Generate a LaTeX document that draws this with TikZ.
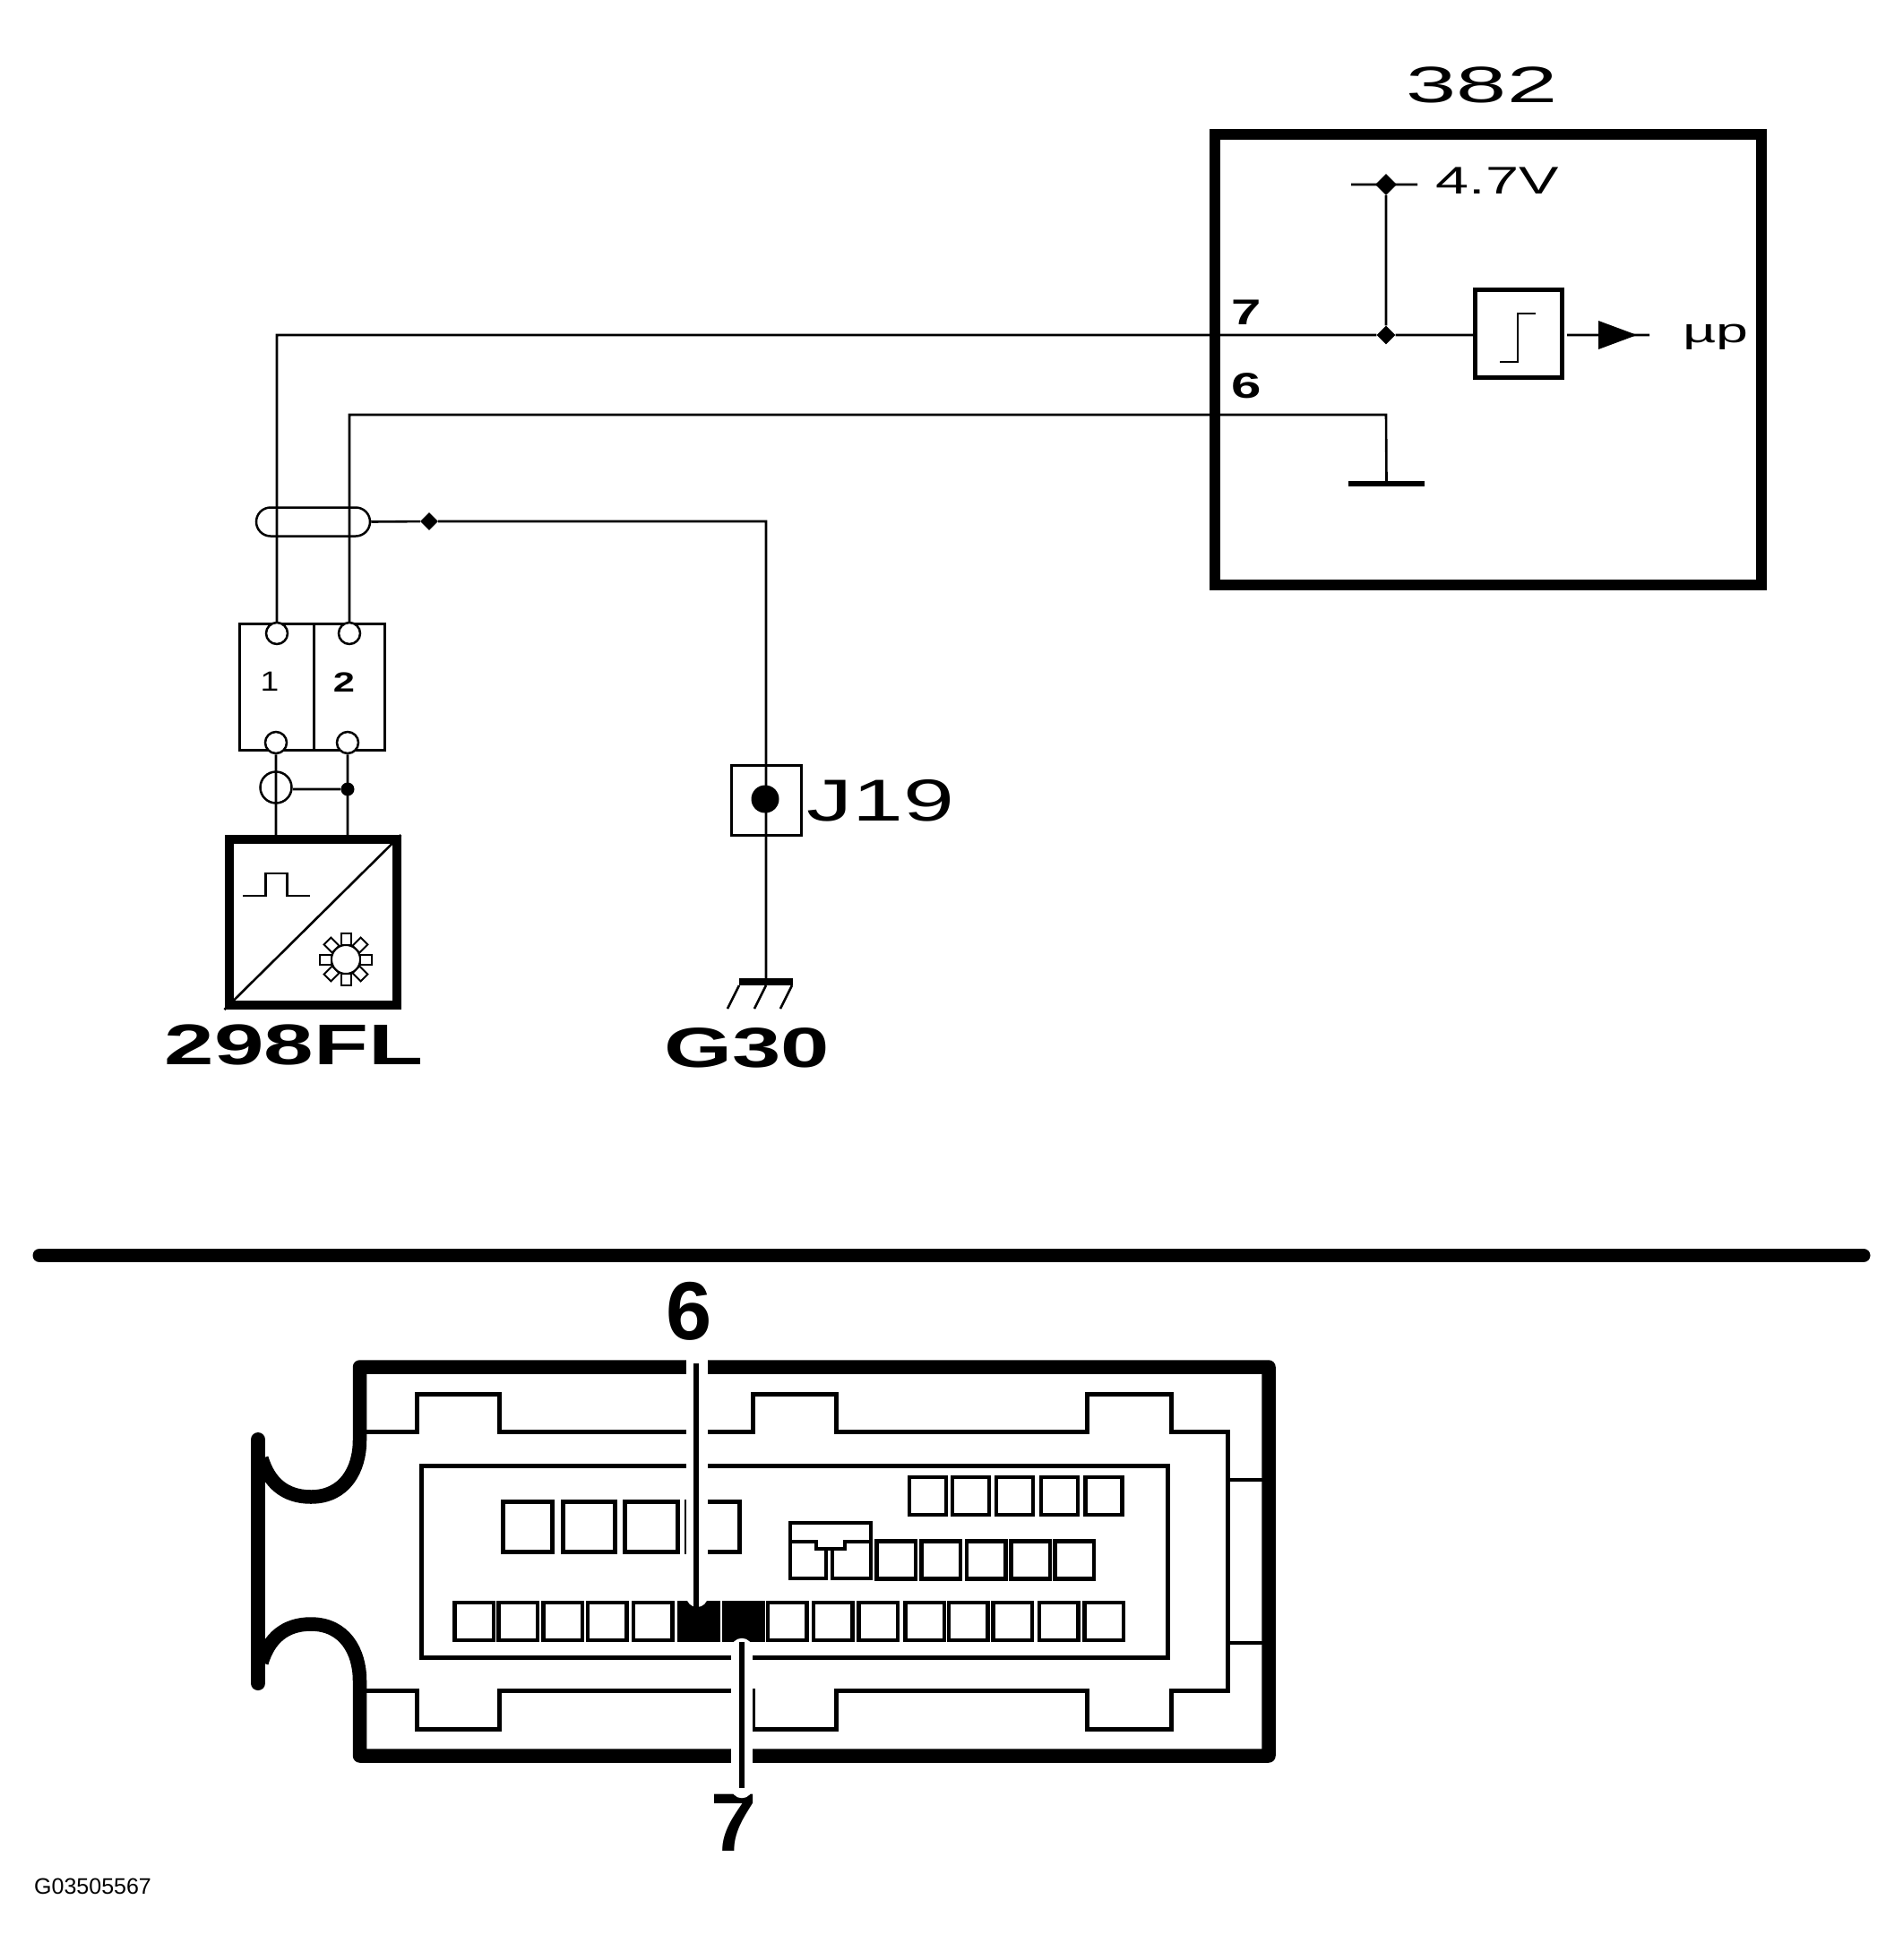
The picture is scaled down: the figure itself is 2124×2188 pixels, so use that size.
\documentclass[tikz,border=0pt]{standalone}
\usepackage{graphicx}
\usepackage{fontspec}
\setmainfont{Liberation Sans}
\usetikzlibrary{shapes.geometric, calc}
\newcommand{\stretched}[2]{\scalebox{#1}[1]{#2}}

\begin{document}
\begin{tikzpicture}[
    x=1pt, y=-1pt,
    wire/.style={line width=2.6pt},
    lbl/.style={font=\fontsize{#1}{#1}\selectfont, inner sep=0pt},
    heavy/.style={font=\fontsize{#1}{#1}\selectfont\bfseries, inner sep=0pt},
    box/.style={draw, rectangle, inner sep=0pt},
    pin/.style={draw, circle, fill=white, line width=2.5pt, inner sep=0pt, minimum size=24pt},
    junction/.style={diamond, fill, inner sep=0pt, minimum size=#1},
    bar/.style={rectangle, fill, inner sep=0pt},
    pad/.style={box, line width=4.5pt, minimum width=43.5pt, minimum height=42pt},
    bigpad/.style={box, line width=5pt, minimum height=56pt},
    tooth/.style={box, fill=white, line width=2pt, minimum width=13pt, minimum height=11pt},
    shell/.style={line width=15.5pt, line join=round},
    outline/.style={line width=5pt, line join=miter}
]
    \useasboundingbox (0,0) rectangle (2124,2188);

    % Control unit on the right.
    \node[box, line width=12pt, minimum width=610pt, minimum height=503pt] (ecu) at (1661,401.5) {};
    \node[lbl=57] (n382) at (1654,95) {\stretched{1.77}{382}};
    \node[box, line width=5pt, minimum width=97pt, minimum height=98pt] (thr) at (1695,372.5) {};
    \node[junction=24pt] (j47) at (1547,206) {};
    \node[junction=21pt] (j7) at (1547,374) {};
    \coordinate (rl) at (1508,206);
    \coordinate (rr) at (1582,206);
    \coordinate (c6) at (1547,463);
    \coordinate (out) at (1841,374);
    \node[bar, minimum width=85pt, minimum height=6pt] (g6) at (1547.5,540) {};
    \node[lbl=43] (v47) at (1671,201.5) {\stretched{1.55}{4.7V}};
    \node[lbl=38] (mup) at (1915,376) {\stretched{1.7}{µp}};
    \node[heavy=40] (n7) at (1391,349) {\stretched{1.5}{7}};
    \node[heavy=40] (n6) at (1391,431) {\stretched{1.5}{6}};

    % Plug and sensor on the left.
    \node[box, line width=3pt, minimum width=82.5pt, minimum height=141pt] (conn1) at (308.75,767) {};
    \node[box, line width=3pt, minimum width=79.5pt, minimum height=141pt] (conn2) at (389.75,767) {};
    \node[lbl=31] (l1) at (301,761) {\stretched{1.2}{1}};
    \node[heavy=31] (l2) at (384,762) {\stretched{1.4}{2}};
    \node[pin] (p1t) at (309,707) {};
    \node[pin] (p2t) at (390,707) {};
    \node[pin] (p1b) at (308,829) {};
    \node[pin] (p2b) at (388,829) {};
    \node[pin, minimum size=35pt, fill=none] (loop) at (308,879) {};
    \node[circle, fill, inner sep=0pt, minimum size=15pt] (dot) at (388,881) {};
    \node[box, line width=10pt, minimum width=187pt, minimum height=185pt] (sensor) at (349,1029.5) {};
    \node[heavy=64] (n298) at (328,1166.5) {\stretched{1.56}{298FL}};
    \node[draw, rectangle, rounded corners=16pt, line width=2.5pt, inner sep=0pt, minimum width=127pt, minimum height=32pt] (shield) at (349.5,582.5) {};
    \node[junction=20pt] (j1) at (479,582) {};

    % Earth point.
    \node[box, line width=3pt, minimum width=78pt, minimum height=78pt] (j19) at (855.5,893.5) {};
    \node[circle, fill, inner sep=0pt, minimum size=31pt] (j19dot) at (854,892) {};
    \node[lbl=66] (nj19) at (983,893.5) {\stretched{1.55}{J19}};
    \node[bar, minimum width=60pt, minimum height=8pt] (gnd) at (855,1096) {};
    \node[heavy=63] (g30) at (834,1169.5) {\stretched{1.55}{G30}};

    \path[draw, wire]
        (p1t.north) |- (j7)
        (j7) -- (j7 -| thr.west)
        (j47) -- (j7)
        (rl) -- (rr)
        ([xshift=3pt]out -| thr.east) -- (out)
        (p2t.north) |- (c6) -- (g6.north)
        (shield.east) -- (j1) -- (j1 -| gnd) -- (gnd.north)
        (p1b.south) -- (p1b |- sensor.north)
        (p2b.south) -- (p2b |- sensor.north)
        (loop.east |- dot) -- (dot);

    % Small symbols.
    \fill (1784,358) -- (1827,374) -- (1784,390) -- cycle;
    \draw[wire] (1674,404) -- (1694,404) -- (1694,350) -- (1714,350);
    \draw[wire] (271,1000) -- (296.5,1000) -- (296.5,975) -- (320.5,975) -- (320.5,1000) -- (345.5,1000);
    \draw[wire] (sensor.south west) -- (sensor.north east);
    \foreach \x in {825,855,884}
        \draw[wire] (\x,1100) -- ++(-13,26);
    \coordinate (gear) at (386,1071);
    \foreach \a in {0,45,...,315}
        \node[tooth, rotate=-\a] (tooth\a) at ($(gear)+(\a:22.5)$) {};
    \node[circle, draw, fill=white, line width=2pt, inner sep=0pt, minimum size=32pt] (hub) at (gear) {};

    % Separator.
    \draw[line width=15pt, line cap=round] (44,1401.5) -- (2080,1401.5);

    % Connector seen from the front.
    \node[heavy=92] (big6) at (769,1464) {\stretched{1}{6}};
    \node[heavy=92] (big7) at (819,2035) {\stretched{1}{7}};
    \draw[shell] (292,1628) .. controls (300,1655) and (318,1671) .. (347,1671) .. controls (385,1671) and (401.5,1640) .. (401.5,1608) -- (401.5,1526) -- (1416,1526) -- (1416,1960) -- (401.5,1960) -- (401.5,1876) .. controls (401.5,1844) and (385,1813) .. (347,1813) .. controls (318,1813) and (300,1829) .. (292,1856);
    \draw[line width=16pt, line cap=round] (288,1607) -- (288,1879);
    \draw[outline] (401.5,1598) -- (465,1598) -- (465,1556) -- (557,1556) -- (557,1598) -- (840,1598) -- (840,1556) -- (933,1556) -- (933,1598) -- (1213,1598) -- (1213,1556) -- (1307,1556) -- (1307,1598) -- (1370.5,1598) -- (1370.5,1887.5) -- (1307,1887.5) -- (1307,1930) -- (1213,1930) -- (1213,1887.5) -- (933,1887.5) -- (933,1930) -- (840,1930) -- (840,1887.5) -- (557,1887.5) -- (557,1930) -- (465,1930) -- (465,1887.5) -- (401.5,1887.5);
    \draw[line width=4pt] (1370.5,1652) -- (1416,1652) (1370.5,1833.5) -- (1416,1833.5);
    \node[box, line width=5pt, minimum width=833.5pt, minimum height=214pt] (face) at (886.75,1743) {};

    \foreach \x [count=\i] in {529,578,628,677.5,728.5,878.5,929.5,980,1032,1080.5,1130,1181.5,1232}
        \node[pad] (low\i) at (\x,1810) {};
    \node[pad, fill] (cav6) at (780,1810) {};
    \node[pad, fill] (cav7) at (829.5,1810) {};
    \foreach \x [count=\i] in {1000,1050,1100.5,1150,1199}
        \node[pad] (mid\i) at (\x,1741.5) {};
    \foreach \x [count=\i] in {1035.5,1083.5,1132.5,1182.5,1232}
        \node[pad, minimum width=41pt] (top\i) at (\x,1670) {};
    \foreach \x/\w [count=\i] in {588.5/55,657/58,727/59,796/59}
        \node[bigpad, minimum width=\w pt] (big\i) at (\x,1704.5) {};
    \draw[line width=4.5pt, line join=miter] (882,1721) -- (911,1721) -- (911,1729) -- (943,1729) -- (943,1721) -- (972,1721);
    \draw[line width=4.5pt, line join=miter] (922,1729) -- (922,1762) -- (882,1762) -- (882,1700) -- (972,1700) -- (972,1762) -- (929,1762) -- (929,1729);

    % Leaders to the two cavities.
    \draw[white, line width=24pt, line cap=round] (778,1510) -- (778,1782);
    \draw[white, line width=24.5pt, line cap=round] (828,1841) -- (828,1995);
    \coordinate (lead6) at (777,1522);
    \coordinate (lead7) at (828,1996);
    \draw[line width=6pt] (lead6) -- (lead6 |- cav6.center);
    \draw[line width=5.5pt] (lead7 |- cav7.south) -- (lead7);

    \node[lbl=25, anchor=west] (code) at (38,2106) {G03505567};
\end{tikzpicture}
\end{document}
